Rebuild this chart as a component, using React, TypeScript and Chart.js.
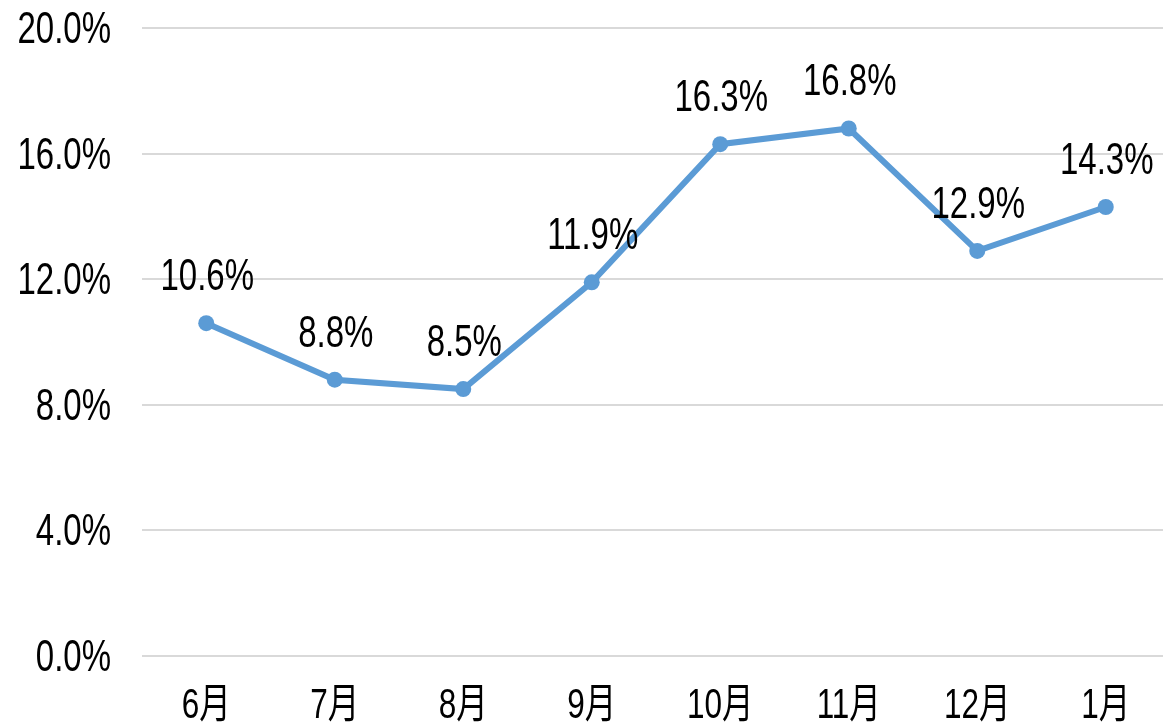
import React, { useEffect, useRef } from "react";
import { Chart, registerables } from "chart.js";

Chart.register(...registerables);

const categories = ["6月", "7月", "8月", "9月", "10月", "11月", "12月", "1月"];
const rates = [10.6, 8.8, 8.5, 11.9, 16.3, 16.8, 12.9, 14.3];
const yMin = 0;
const yMax = 20;
const yStep = 4;

const FONT_FAMILY = "'Liberation Sans', 'Noto Sans CJK JP', sans-serif";
const LINE_COLOR = "#5B9BD5";
const TEXT_COLOR = "#000000";
const SCALE_X = 0.75;

const pct = (v: number) => v.toFixed(1) + "%";

function drawNarrow(ctx: any, text: string, x: number, y: number, size: number, align: string) {
  ctx.save();
  ctx.translate(x, y);
  ctx.scale(SCALE_X, 1);
  ctx.font = `${size}px ${FONT_FAMILY}`;
  ctx.fillStyle = TEXT_COLOR;
  ctx.textAlign = align;
  ctx.textBaseline = "alphabetic";
  ctx.fillText(text, 0, 0);
  ctx.restore();
}

const textPlugin = {
  id: "narrowText",
  afterDraw(chart: any) {
    const ctx = chart.ctx;
    const xs = chart.scales.x;
    const ys = chart.scales.y;
    // y-axis tick labels
    ys.ticks.forEach((t: any) => {
      const y = ys.getPixelForValue(t.value);
      drawNarrow(ctx, pct(t.value), xs.left - 31, y + 15, 44, "right");
    });
    // x-axis tick labels
    xs.ticks.forEach((t: any, i: number) => {
      const x = xs.getPixelForTick(i);
      drawNarrow(ctx, xs.getLabelForValue(t.value), x, ys.bottom + 62, 42, "center");
    });
    // data labels
    const meta = chart.getDatasetMeta(0);
    const values = chart.data.datasets[0].data as number[];
    meta.data.forEach((pt: any, i: number) => {
      drawNarrow(ctx, pct(values[i]), pt.x + 1, pt.y - 33, 44, "center");
    });
  },
};

export default function App() {
  const ref = useRef<HTMLCanvasElement>(null);
  useEffect(() => {
    if (!ref.current) return;
    const chart = new Chart(ref.current, {
      type: "line",
      data: {
        labels: categories,
        datasets: [
          {
            data: rates,
            borderColor: LINE_COLOR,
            backgroundColor: LINE_COLOR,
            borderWidth: 6,
            pointRadius: 8,
            pointBackgroundColor: LINE_COLOR,
            pointBorderColor: LINE_COLOR,
            pointBorderWidth: 0,
            tension: 0,
          },
        ],
      },
      options: {
        animation: false,
        responsive: false,
        layout: { padding: { top: 28, right: 0, bottom: 0, left: 0 } },
        plugins: { legend: { display: false }, tooltip: { enabled: false } },
        scales: {
          x: {
            type: "category",
            offset: true,
            grid: { display: false, drawTicks: false },
            border: { display: false },
            ticks: { display: false, autoSkip: false },
            afterFit(scale: any) {
              scale.height = 67;
            },
          },
          y: {
            min: yMin,
            max: yMax,
            grid: { color: "#D9D9D9", lineWidth: 2, drawTicks: false },
            border: { display: false },
            ticks: { display: false, stepSize: yStep },
            afterFit(scale: any) {
              scale.width = 142;
            },
          },
        },
      },
      plugins: [textPlugin],
    });
    return () => chart.destroy();
  }, []);
  return (
    <div
      style={{
        position: "fixed",
        left: 0,
        top: 0,
        width: 1163,
        height: 723,
        overflow: "hidden",
        background: "#ffffff",
      }}
    >
      <canvas ref={ref} width={1178} height={723} style={{ display: "block", width: 1178, height: 723 }} />
    </div>
  );
}
